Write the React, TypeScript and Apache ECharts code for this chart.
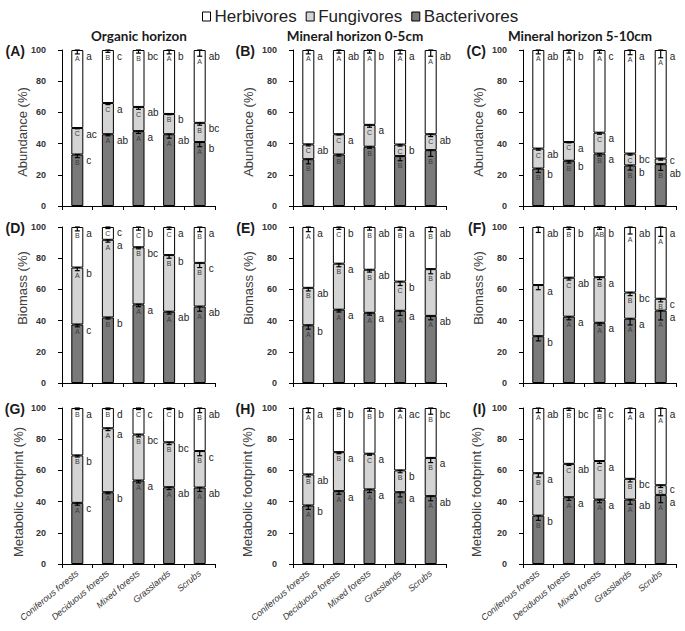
import React, { useEffect, useRef } from "react";
import * as echarts from "echarts";

const categories = ["Coniferous forests", "Deciduous forests", "Mixed forests", "Grasslands", "Scrubs"];
const groups = ["Bacterivores", "Fungivores", "Herbivores"];
const legendOrder = ["Herbivores", "Fungivores", "Bacterivores"];
const columnTitles = ["Organic horizon", "Mineral horizon 0-5cm", "Mineral horizon 5-10cm"];
const rowTitles = ["Abundance (%)", "Biomass (%)", "Metabolic footprint (%)"];
const panelLabels = ["(A)", "(B)", "(C)", "(D)", "(E)", "(F)", "(G)", "(H)", "(I)"];

// (A) Abundance, organic horizon
const A_bact = [33, 46, 48, 46, 41];
const A_fung = [17, 20, 15.5, 13, 12.3];
const A_herb = [50, 34, 36.5, 41, 46.7];
const A_err = [[2, 1, 1.5, 2.5, 3], [0.5, 1, 1.5, 0.5, 1.5], [2.5, 1.5, 2, 2.5, 4]];
const A_upper = [["B", "A", "A", "A", "A"], ["C", "C", "C", "B", "B"], ["A", "B", "B", "A", "A"]];
const A_lower = [["c", "ab", "a", "ab", "b"], ["ac", "a", "ab", "b", "bc"], ["a", "c", "bc", "b", "ab"]];

// (B) Abundance, mineral 0-5cm
const B_bact = [30, 33, 38, 32, 35.8];
const B_fung = [9.5, 13, 14, 7.4, 10.2];
const B_herb = [60.5, 54, 48, 60.6, 54];
const B_err = [[3, 1, 1, 3, 4], [1, 0.5, 1.5, 1, 1.5], [2.5, 2, 2, 2.5, 4]];
const B_upper = [["B", "B", "B", "B", "B"], ["C", "C", "C", "C", "C"], ["A", "A", "A", "A", "A"]];
const B_lower = [["", "", "", "", ""], ["ab", "a", "a", "b", "ab"], ["a", "ab", "b", "a", "ab"]];

// (C) Abundance, mineral 5-10cm
const C_bact = [24, 29, 33.6, 26, 26.8];
const C_fung = [12.8, 12, 13.4, 7.6, 3.6];
const C_herb = [63.2, 59, 53, 66.4, 69.6];
const C_err = [[2.5, 1.5, 1.5, 3, 4], [1, 0.5, 1, 1, 1], [2.5, 2, 2, 3, 5]];
const C_upper = [["B", "B", "B", "B", "B"], ["C", "C", "C", "C", ""], ["A", "A", "A", "A", "A"]];
const C_lower = [["b", "b", "a", "b", "ab"], ["ab", "a", "a", "bc", "c"], ["ab", "b", "c", "a", "a"]];

// (D) Biomass, organic horizon
const D_bact = [37.5, 42, 50.4, 45.7, 49];
const D_fung = [36.5, 49.8, 36.6, 36.3, 28];
const D_herb = [26, 8.2, 13, 18, 23];
const D_err = [[1.5, 1, 1.5, 1.5, 3], [2, 1.5, 1, 2, 3], [2.5, 1, 2, 1.5, 3]];
const D_upper = [["A", "B", "A", "A", "A"], ["A", "A", "B", "B", "B"], ["B", "C", "C", "C", "B"]];
const D_lower = [["c", "b", "a", "ab", "ab"], ["b", "a", "bc", "b", "c"], ["a", "c", "b", "a", "a"]];

// (E) Biomass, mineral 0-5cm
const E_bact = [37, 47, 45, 46.3, 43];
const E_fung = [24, 29.5, 27.6, 18.7, 30];
const E_herb = [39, 23.5, 27.4, 35, 27];
const E_err = [[2.5, 1.5, 1.5, 3, 2.5], [2, 2, 1.5, 2.5, 3], [3, 1.5, 2, 2, 3]];
const E_upper = [["A", "A", "A", "A", "A"], ["B", "B", "B", "C", "B"], ["A", "C", "B", "B", "B"]];
const E_lower = [["b", "a", "a", "a", "ab"], ["ab", "a", "ab", "b", "ab"], ["a", "b", "ab", "a", "ab"]];

// (F) Biomass, mineral 5-10cm
const F_bact = [30, 42.5, 38.6, 41.2, 46.4];
const F_fung = [32.8, 25, 29.2, 16.8, 7.6];
const F_herb = [37.2, 32.5, 32.2, 42, 46];
const F_err = [[3, 2, 1.5, 4, 6], [3, 1.5, 1.5, 2, 2], [3.5, 1.5, 1.5, 4.5, 6]];
const F_upper = [["", "A", "A", "A", "A"], ["", "C", "B", "B", "B"], ["", "B", "AB", "A", "A"]];
const F_lower = [["b", "a", "a", "a", "a"], ["a", "ab", "a", "bc", "c"], ["ab", "b", "b", "ab", "a"]];

// (G) Metabolic footprint, organic horizon
const G_bact = [39.2, 46, 53.5, 49.2, 49];
const G_fung = [30.4, 41, 29.5, 28.8, 23.4];
const G_herb = [30.4, 13, 17, 22, 27.6];
const G_err = [[1.5, 1, 1.5, 1.5, 2.5], [1, 1.5, 1.5, 1.5, 3], [1, 1, 1, 1, 3]];
const G_upper = [["A", "A", "A", "A", "A"], ["B", "A", "B", "B", "B"], ["B", "B", "C", "C", "B"]];
const G_lower = [["c", "b", "a", "ab", "ab"], ["b", "a", "bc", "bc", "c"], ["a", "d", "c", "b", "ab"]];

// (H) Metabolic footprint, mineral 0-5cm
const H_bact = [37.5, 46.7, 47.8, 46, 43.5];
const H_fung = [19.9, 25, 22.9, 14, 24.5];
const H_herb = [42.6, 28.3, 29.3, 40, 32];
const H_err = [[2.5, 2, 2, 3, 3], [1.5, 1, 1, 1.5, 3], [3, 1, 2, 2, 4]];
const H_upper = [["A", "A", "A", "A", "A"], ["B", "B", "C", "B", "B"], ["A", "B", "B", "A", "B"]];
const H_lower = [["b", "a", "a", "a", "ab"], ["ab", "a", "a", "b", "a"], ["a", "b", "b", "ac", "bc"]];

// (I) Metabolic footprint, mineral 5-10cm
const I_bact = [31, 42.8, 41.3, 41.3, 44.3];
const I_fung = [27.2, 21.4, 24.7, 13.3, 6.2];
const I_herb = [41.8, 35.8, 34, 45.4, 49.5];
const I_err = [[3, 2, 2, 3, 5], [2.5, 1, 1.5, 2, 1.5], [3, 1.5, 2, 3, 5]];
const I_upper = [["B", "A", "A", "A", "A"], ["B", "C", "C", "B", "B"], ["A", "B", "B", "A", "A"]];
const I_lower = [["b", "a", "a", "ab", "a"], ["a", "ab", "a", "bc", "c"], ["ab", "bc", "c", "a", "a"]];

const panels = [
  { vals: [A_bact, A_fung, A_herb], err: A_err, upper: A_upper, lower: A_lower },
  { vals: [B_bact, B_fung, B_herb], err: B_err, upper: B_upper, lower: B_lower },
  { vals: [C_bact, C_fung, C_herb], err: C_err, upper: C_upper, lower: C_lower },
  { vals: [D_bact, D_fung, D_herb], err: D_err, upper: D_upper, lower: D_lower },
  { vals: [E_bact, E_fung, E_herb], err: E_err, upper: E_upper, lower: E_lower },
  { vals: [F_bact, F_fung, F_herb], err: F_err, upper: F_upper, lower: F_lower },
  { vals: [G_bact, G_fung, G_herb], err: G_err, upper: G_upper, lower: G_lower },
  { vals: [H_bact, H_fung, H_herb], err: H_err, upper: H_upper, lower: H_lower },
  { vals: [I_bact, I_fung, I_herb], err: I_err, upper: I_upper, lower: I_lower },
];

// layout
const colLeft = [62, 293, 523];
const rowTop = [50, 227, 408];
const plotW = 153;
const plotH = 156;
const barColors = ["#7a7a7a", "#d4d4d4", "#ffffff"];
const FONT = "Liberation Sans, Arial, sans-serif";
const yTitleX = [[22, 248, 478], [22, 248, 478], [18, 247, 476]];
const yTitleY = [132, 288, 492];
const labelRight = [25, 255, 486];
const titleX = [139, 355, 580];

function buildOption() {
  const grid: any[] = [];
  const xAxis: any[] = [];
  const yAxis: any[] = [];
  const series: any[] = [];
  const graphic: any[] = [];
  const pxPerUnit = plotH / 100;

  panels.forEach((p, i) => {
    const row = Math.floor(i / 3);
    const col = i % 3;
    grid.push({ left: colLeft[col], top: rowTop[row], width: plotW, height: plotH });
    xAxis.push({
      type: "category",
      gridIndex: i,
      data: categories,
      axisLine: { lineStyle: { color: "#000", width: 1 } },
      axisTick: { show: true, length: 4, lineStyle: { color: "#000" } },
      axisLabel: {
        show: row === 2,
        interval: 0,
        rotate: 40,
        margin: 8,
        fontSize: 9,
        fontStyle: "italic",
        color: "#333",
        fontFamily: FONT,
      },
    });
    yAxis.push({
      type: "value",
      gridIndex: i,
      min: 0,
      max: 100,
      interval: 20,
      splitLine: { show: false },
      axisLine: { show: true, lineStyle: { color: "#000", width: 1 } },
      axisTick: { show: true, length: 4, lineStyle: { color: "#000" } },
      axisLabel: { fontSize: 9, fontWeight: "bold", color: "#333", margin: 16, fontFamily: FONT },
    });

    p.vals.forEach((v, g) => {
      series.push({
        type: "bar",
        name: groups[g],
        xAxisIndex: i,
        yAxisIndex: i,
        stack: "s" + i,
        barWidth: 12,
        data: v,
        itemStyle: { color: barColors[g], borderColor: "#000", borderWidth: 1 },
      });
    });

    // tops of each segment and label offsets (avoid overlapping lowercase letters)
    const tops: number[][] = [[], [], []];
    const lowOff: number[][] = [[], [], []];
    for (let c = 0; c < categories.length; c++) {
      let acc = 0;
      const ys: number[] = [];
      for (let g = 0; g < 3; g++) {
        acc += p.vals[g][c];
        tops[g][c] = Math.min(100, acc);
        ys[g] = (100 - tops[g][c]) * pxPerUnit + 6;
      }
      const adj = ys.slice();
      for (let g = 1; g >= 0; g--) {
        if (!p.lower[g][c] || !p.lower[g + 1][c]) continue;
        const gap = adj[g] - adj[g + 1];
        if (gap < 13) {
          const need = 13 - gap;
          adj[g + 1] -= need / 2;
          adj[g] += need / 2;
        }
      }
      for (let g = 0; g < 3; g++) lowOff[g][c] = adj[g] - ys[g] + 6;
    }

    const meta: any[] = [];
    const data: any[] = [];
    for (let g = 0; g < 3; g++) {
      for (let c = 0; c < categories.length; c++) {
        data.push([c, tops[g][c], p.err[g][c]]);
        meta.push({ upper: p.upper[g][c], lower: p.lower[g][c], dy: lowOff[g][c] });
      }
    }
    series.push({
      type: "custom",
      xAxisIndex: i,
      yAxisIndex: i,
      z: 5,
      clip: false,
      encode: { x: 0, y: 1 },
      itemStyle: { color: "#222" },
      data,
      renderItem: (params: any, api: any) => {
        const c = api.value(0);
        const top = api.value(1);
        const err = api.value(2);
        const m = meta[params.dataIndex];
        const pt = api.coord([c, top]);
        const pb = api.coord([c, top - err]);
        const x = pt[0];
        const ls = { stroke: "#000", lineWidth: 1.2 };
        const children: any[] = [
          { type: "line", shape: { x1: x, y1: pt[1], x2: x, y2: pb[1] }, style: ls },
          { type: "line", shape: { x1: x - 2.5, y1: pb[1], x2: x + 2.5, y2: pb[1] }, style: ls },
          { type: "line", shape: { x1: x - 2.5, y1: pt[1], x2: x + 2.5, y2: pt[1] }, style: ls },
        ];
        if (m.upper) {
          children.push({
            type: "text",
            x,
            y: pb[1] + 5,
            style: {
              text: m.upper,
              font: "7px " + FONT,
              fill: "#3a3a3a",
              textFill: "#3a3a3a",
              align: "center",
              verticalAlign: "middle",
            },
          });
        }
        if (m.lower) {
          children.push({
            type: "text",
            x: x + 9,
            y: pt[1] + m.dy,
            style: {
              text: m.lower,
              font: "10px " + FONT,
              fill: "#1e1e1e",
              textFill: "#1e1e1e",
              align: "left",
              verticalAlign: "middle",
            },
          });
        }
        return { type: "group", children };
      },
    });

    graphic.push({
      type: "text",
      x: yTitleX[row][col],
      y: yTitleY[row],
      rotation: Math.PI / 2,
      style: {
        text: rowTitles[row],
        fontSize: 13,
        fontFamily: FONT,
        fill: "#404040",
        align: "center",
        verticalAlign: "middle",
      },
    });
    graphic.push({
      type: "text",
      x: labelRight[col],
      y: rowTop[row] + 1,
      style: {
        text: panelLabels[i],
        fontSize: 14,
        fontWeight: "bold",
        fontFamily: FONT,
        fill: "#1a1a1a",
        align: "right",
        verticalAlign: "middle",
      },
    });
  });

  columnTitles.forEach((t, col) => {
    graphic.push({
      type: "text",
      x: titleX[col],
      y: 36,
      style: {
        text: t,
        fontSize: 13.5,
        fontWeight: "bold",
        fontFamily: "Lato, Open Sans, sans-serif",
        fill: "#1a1a1a",
        align: "center",
        verticalAlign: "middle",
      },
    });
  });

  return {
    animation: false,
    backgroundColor: "#fff",
    color: ["#222222"],
    legend: {
      data: legendOrder,
      left: 197,
      top: 3,
      icon: "rect",
      itemWidth: 8,
      itemHeight: 9,
      itemGap: 9,
      selectedMode: false,
      itemStyle: { borderColor: "#000", borderWidth: 1 },
      textStyle: { fontSize: 17, color: "#222", fontFamily: FONT, padding: [0, 0, 0, -1] },
    },
    grid,
    xAxis,
    yAxis,
    series,
    graphic,
  };
}

export default function App() {
  const ref = useRef<HTMLDivElement>(null);
  useEffect(() => {
    if (!ref.current) return;
    const chart = echarts.init(ref.current, undefined, { renderer: "svg" });
    chart.setOption(buildOption() as any);
    return () => chart.dispose();
  }, []);
  return <div ref={ref} style={{ position: "absolute", left: 0, top: 0, width: 685, height: 631 }} />;
}
